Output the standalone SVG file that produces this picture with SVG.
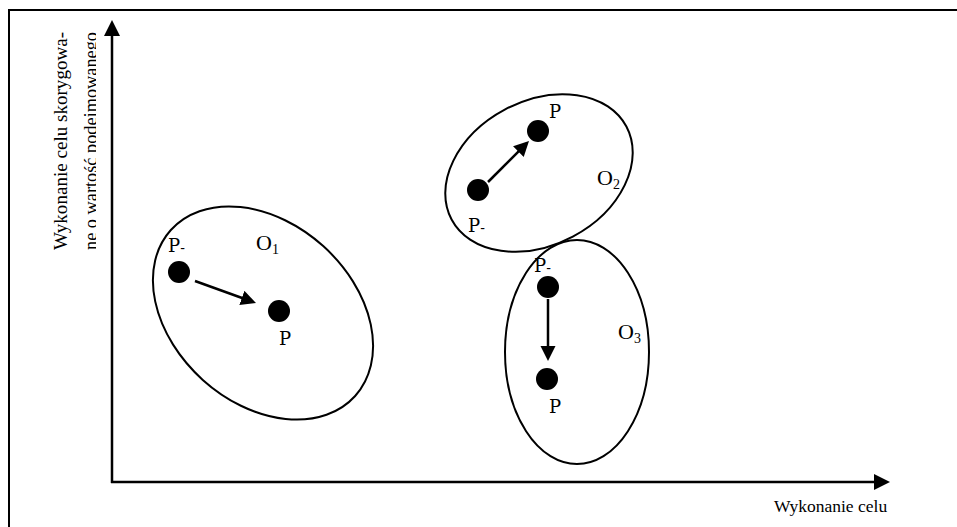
<svg xmlns="http://www.w3.org/2000/svg" width="957" height="527" viewBox="0 0 957 527">
  <style>
    .frame{fill:none;stroke:#000;stroke-width:2}
    .axis{fill:none;stroke:#000;stroke-width:2.5}
    .ell{fill:none;stroke:#000;stroke-width:2}
    .dot{fill:#000}
    .arr{fill:none;stroke:#000;stroke-width:2.5}
    .serif{font-family:"Liberation Serif","Times New Roman",serif;fill:#000}
    .pt{font-family:"DejaVu Serif",serif;font-size:18px;fill:#000}
    .sub{font-size:14px}
    .o{font-size:22px}
    .osub{font-size:14px}
  </style>
  <defs>
    <marker id="head" markerUnits="userSpaceOnUse" markerWidth="16" markerHeight="16" refX="1" refY="7.5" orient="auto">
      <path d="M0,0 L15,7.5 L0,15 Z" fill="#000"/>
    </marker>
    <marker id="axisHead" markerUnits="userSpaceOnUse" markerWidth="18" markerHeight="18" refX="1" refY="8" orient="auto">
      <path d="M0,0 L16,8 L0,16 Z" fill="#000"/>
    </marker>
    <clipPath id="yLabelClip" clipPathUnits="userSpaceOnUse">
      <rect x="0" y="0" width="96" height="527"/>
    </clipPath>
  </defs>

  <!-- outer frame -->
  <path class="frame" d="M9,527 V10 H958"/>

  <!-- axes -->
  <g id="axes">
    <line class="axis" x1="112" y1="483" x2="112" y2="35" marker-end="url(#axisHead)"/>
    <line class="axis" x1="111" y1="482" x2="875" y2="482" marker-end="url(#axisHead)"/>
    <text class="serif" x="774" y="512" font-size="17.5">Wykonanie celu</text>
    <text class="serif" x="67" y="250" font-size="19" textLength="218" lengthAdjust="spacing" transform="rotate(-90 67 250)">Wykonanie celu skorygowa-</text>
    <g clip-path="url(#yLabelClip)">
      <text class="serif" x="97" y="250" font-size="19" textLength="218" lengthAdjust="spacingAndGlyphs" transform="rotate(-90 97 250)">ne o wartość podejmowanego</text>
    </g>
  </g>

  <!-- group O1 -->
  <g id="o1">
    <ellipse class="ell" cx="263" cy="313" rx="124" ry="90" transform="rotate(42 263 313)"/>
    <circle class="dot" cx="179" cy="272" r="11"/>
    <circle class="dot" cx="279" cy="311" r="11"/>
    <text class="pt" x="168" y="252">P<tspan class="sub" dy="1">-</tspan></text>
    <text class="pt" x="279" y="345">P</text>
    <text class="serif o" x="256" y="250">O<tspan class="osub" dy="4">1</tspan></text>
  </g>

  <!-- group O2 -->
  <g id="o2">
    <ellipse class="ell" cx="539" cy="173" rx="99" ry="72" transform="rotate(-28 539 173)"/>
    <circle class="dot" cx="478" cy="190" r="11"/>
    <circle class="dot" cx="538" cy="131" r="11"/>
    <text class="pt" x="468" y="232">P<tspan class="sub" dy="1">-</tspan></text>
    <text class="pt" x="549" y="118">P</text>
    <text class="serif o" x="597" y="185">O<tspan class="osub" dy="4">2</tspan></text>
  </g>

  <!-- group O3 -->
  <g id="o3">
    <ellipse class="ell" cx="577" cy="352" rx="72" ry="112"/>
    <circle class="dot" cx="548" cy="287" r="11"/>
    <circle class="dot" cx="547" cy="379" r="11"/>
    <text class="pt" x="534" y="272">P<tspan class="sub" dy="1">-</tspan></text>
    <text class="pt" x="549" y="413">P</text>
    <text class="serif o" x="618" y="339">O<tspan class="osub" dy="4">3</tspan></text>
  </g>

  <!-- displacement arrows -->
  <g id="connectors">
    <line class="arr" x1="195" y1="281" x2="242.8" y2="298.2" marker-end="url(#head)"/>
    <line class="arr" x1="488" y1="182" x2="519.1" y2="150.9" marker-end="url(#head)"/>
    <line class="arr" x1="548" y1="299" x2="548" y2="347" marker-end="url(#head)"/>
  </g>
</svg>
